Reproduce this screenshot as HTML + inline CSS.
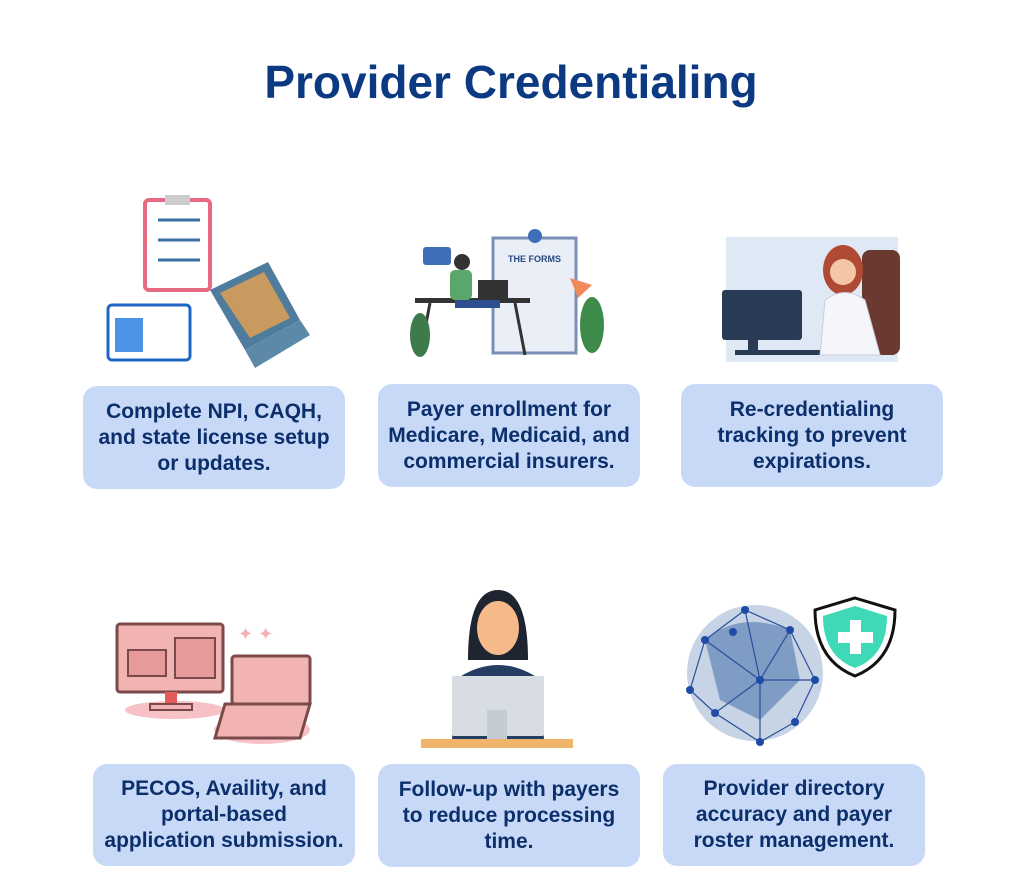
<!DOCTYPE html>
<html><head><style>
body{margin:0;width:1022px;height:886px;background:#fff;position:relative;overflow:hidden;font-family:"Liberation Sans",sans-serif}
h1{position:absolute;top:54px;left:0;width:1022px;text-align:center;margin:0;font-size:46px;line-height:56px;color:#0b3a82;font-weight:bold}
.b{position:absolute;width:262px;height:103px;background:#c8d9f8;border-radius:14px;display:flex;align-items:center;justify-content:center;text-align:center;color:#0b2f6b;font-weight:bold;font-size:21px;line-height:26px;white-space:nowrap}
svg{position:absolute;left:0;top:0}
</style></head><body>
<h1>Provider Credentialing</h1>
<svg width="1022" height="886">
<!-- 1 -->
<rect x="145" y="200" width="65" height="90" fill="#fff" stroke="#e86a82" stroke-width="4" rx="4"/>
<rect x="165" y="195" width="25" height="10" fill="#ccc"/>
<line x1="158" y1="220" x2="200" y2="220" stroke="#3a6fa6" stroke-width="3"/>
<line x1="158" y1="240" x2="200" y2="240" stroke="#3a6fa6" stroke-width="3"/>
<line x1="158" y1="260" x2="200" y2="260" stroke="#3a6fa6" stroke-width="3"/>
<rect x="108" y="305" width="82" height="55" fill="#fff" stroke="#1f66c4" stroke-width="3" rx="4"/>
<rect x="115" y="318" width="28" height="34" fill="#4a93e6"/>
<polygon points="210,290 268,262 300,320 245,350" fill="#4f7b9c"/>
<polygon points="220,293 264,272 290,318 250,338" fill="#c99a5f"/>
<polygon points="245,350 300,320 310,335 255,368" fill="#5d89a8"/>
<!-- 2 -->
<rect x="493" y="238" width="83" height="115" fill="#e9eef7" stroke="#7a8fb5" stroke-width="3"/>
<circle cx="535" cy="236" r="7" fill="#3f6fb8"/>
<text x="508" y="262" font-size="9" font-weight="bold" fill="#244a80" font-family="Liberation Sans">THE FORMS</text>
<rect x="415" y="298" width="115" height="5" fill="#333"/>
<line x1="430" y1="303" x2="420" y2="355" stroke="#333" stroke-width="3"/>
<line x1="515" y1="303" x2="525" y2="355" stroke="#333" stroke-width="3"/>
<circle cx="462" cy="262" r="8" fill="#333"/>
<rect x="450" y="270" width="22" height="30" fill="#5aa66b" rx="5"/>
<rect x="455" y="300" width="45" height="8" fill="#2d4f8f"/>
<rect x="478" y="280" width="30" height="18" fill="#333"/>
<rect x="423" y="247" width="28" height="18" fill="#3f6fb8" rx="3"/>
<ellipse cx="420" cy="335" rx="10" ry="22" fill="#3e7a4a"/>
<ellipse cx="592" cy="325" rx="12" ry="28" fill="#3e8a4a"/>
<polygon points="570,278 592,285 578,298" fill="#f08a5a"/>
<!-- 3 -->
<rect x="726" y="237" width="172" height="125" fill="#dfe9f6"/>
<rect x="722" y="290" width="80" height="50" fill="#2a3b55" rx="3"/>
<rect x="748" y="340" width="10" height="12" fill="#2a3b55"/>
<rect x="735" y="350" width="90" height="5" fill="#2a3b55"/>
<rect x="862" y="250" width="38" height="105" fill="#6a3a30" rx="8"/>
<ellipse cx="843" cy="270" rx="20" ry="25" fill="#b04a35"/>
<circle cx="843" cy="272" r="13" fill="#f3c7a5"/>
<path d="M820 355 L825 300 Q845 285 865 300 L880 355 Z" fill="#f4f6fa" stroke="#ccd" />
<!-- 4 -->
<ellipse cx="175" cy="710" rx="50" ry="9" fill="#f6c2c6"/>
<ellipse cx="262" cy="730" rx="48" ry="14" fill="#f6c2c6"/>
<rect x="117" y="624" width="106" height="68" fill="#f2b3b3" stroke="#7a4a4a" stroke-width="3" rx="3"/>
<rect x="128" y="650" width="38" height="26" fill="#e89a9a" stroke="#7a4a4a" stroke-width="2"/>
<rect x="175" y="638" width="40" height="40" fill="#e89a9a" stroke="#7a4a4a" stroke-width="2"/>
<rect x="165" y="692" width="12" height="12" fill="#e35a5a"/>
<rect x="150" y="704" width="42" height="6" fill="#f2b3b3" stroke="#7a4a4a" stroke-width="2"/>
<rect x="232" y="656" width="78" height="48" fill="#f2b3b3" stroke="#7a4a4a" stroke-width="3" rx="3"/>
<polygon points="225,704 310,704 300,738 215,738" fill="#f2b3b3" stroke="#7a4a4a" stroke-width="3"/>
<text x="238" y="640" font-size="18" fill="#f2b3b3">✦ ✦</text>
<!-- 5 -->
<path d="M468 660 Q468 590 498 590 Q528 590 528 660 Z" fill="#1e2430"/>
<ellipse cx="498" cy="628" rx="21" ry="27" fill="#f6b98a"/>
<path d="M452 740 L455 680 Q498 650 541 680 L544 740 Z" fill="#253d63"/>
<rect x="452" y="676" width="92" height="60" fill="#d7dde3" rx="2"/>
<rect x="487" y="710" width="20" height="30" fill="#c4ccd3"/>
<rect x="421" y="739" width="152" height="9" fill="#f0b56a"/>
<!-- 6 -->
<circle cx="755" cy="673" r="68" fill="#c6d4e6"/>
<path d="M705 640 Q740 610 790 630 L800 680 L760 720 L720 700 Z" fill="#7e9cc4"/>
<g stroke="#2a4f9b" stroke-width="1.2" fill="none"><path d="M705 640 L745 610 L790 630 L815 680 L795 722 L760 742 L715 713 L690 690 L705 640 M745 610 L760 680 L815 680 M705 640 L760 680 L715 713 M790 630 L760 680 L760 742"/></g>
<g fill="#1f4aa8"><circle cx="705" cy="640" r="4"/><circle cx="745" cy="610" r="4"/><circle cx="790" cy="630" r="4"/><circle cx="815" cy="680" r="4"/><circle cx="795" cy="722" r="4"/><circle cx="760" cy="742" r="4"/><circle cx="715" cy="713" r="4"/><circle cx="690" cy="690" r="4"/><circle cx="760" cy="680" r="4"/><circle cx="733" cy="632" r="4"/></g>
<path d="M855 598 L895 610 Q895 660 855 676 Q815 660 815 610 Z" fill="#fff" stroke="#111" stroke-width="3"/>
<path d="M855 606 L887 616 Q887 656 855 668 Q823 656 823 616 Z" fill="#3fd9b8"/>
<rect x="850" y="620" width="11" height="34" fill="#fff"/><rect x="838" y="632" width="35" height="11" fill="#fff"/>
</svg>
<div class="b" style="left:83px;top:386px">Complete NPI, CAQH,<br>and state license setup<br>or updates.</div>
<div class="b" style="left:378px;top:384px">Payer enrollment for<br>Medicare, Medicaid, and<br>commercial insurers.</div>
<div class="b" style="left:681px;top:384px">Re-credentialing<br>tracking to prevent<br>expirations.</div>
<div class="b" style="left:93px;top:764px;height:102px">PECOS, Availity, and<br>portal-based<br>application submission.</div>
<div class="b" style="left:378px;top:764px">Follow-up with payers<br>to reduce processing<br>time.</div>
<div class="b" style="left:663px;top:764px;height:102px">Provider directory<br>accuracy and payer<br>roster management.</div>
</body></html>
